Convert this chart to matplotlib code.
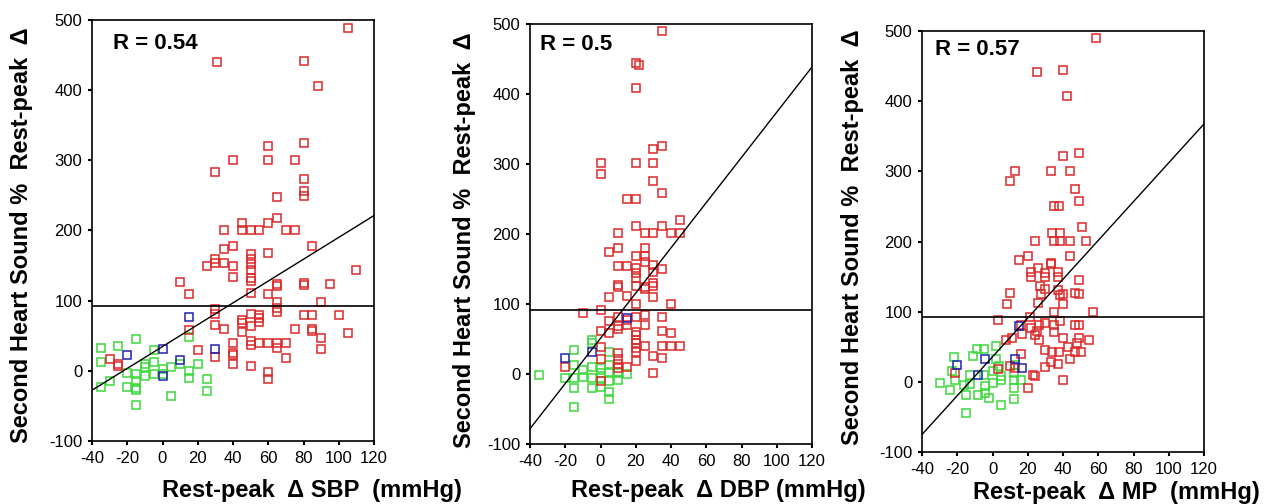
import numpy as np
import matplotlib.pyplot as plt

plt.rcParams['font.family'] = ['Liberation Sans', 'DejaVu Sans']
plt.rcParams['axes.unicode_minus'] = False

RED = '#dc2828'
GREEN = '#3cd83c'
BLUE = '#2020b0'

# ---- panel 1: SBP ----
sbp_red_x = [105, 31, 80, 88, 60, 80, 40, 60, 75, 30,
             80, 80, 80, 65, 65, 60, 45, 35, 45, 50,
             55, 70, 75, 85, 40, 35, 60, 50, 50, 50,
             30, 30, 35, 25, 40, 110, 50, 50, 50, 40,
             10, 65, 65, 80, 80, 95, 15, 50, 60, 65,
             90, 65, 65, 30, 30, 50, 55, 55, 55, 80,
             85, 100, 45, 45, 50, 30, 35, 75, 85, 85,
             45, 105, 90, 15, 20, 40, 50, 50, 55, 60,
             65, 65, 70, 90, 40, 40, 30, 70, 40, 50,
             60, 60, -30, -25, -25]
sbp_red_y = [489, 440, 442, 406, 320, 324, 300, 300, 300, 284,
             273, 257, 249, 248, 218, 210, 210, 200, 200, 200,
             200, 200, 200, 178, 178, 173, 168, 166, 159, 152,
             160, 154, 154, 149, 149, 143, 144, 133, 128, 134,
             126, 124, 121, 125, 123, 124, 109, 111, 109, 98,
             98, 90, 84, 88, 81, 81, 80, 75, 69, 79,
             79, 79, 73, 68, 64, 66, 60, 60, 60, 57,
             56, 54, 47, 58, 29, 39, 43, 37, 39, 39,
             39, 33, 39, 31, 25, 22, 20, 18, 10, 7,
             -1, -12, 17, 10, 7]
sbp_blue_x = [15, 0, 30, 10, -20, 0]
sbp_blue_y = [77, 31, 31, 16, 22, -7]
sbp_green_x = [-35, -35, -35, -25, -15, -30, -20, -20, -15, -15,
               -15, -15, -15, -10, -10, -10, -5, -5, -5, 0,
               0, 5, 5, 10, 15, 15, 15, 20, 25, 25]
sbp_green_y = [33, 12, -23, 35, 45, -14, -3, -23, -5, -14,
               -24, -27, -48, 10, 5, -8, 30, 12, -5, 3,
               -4, 5, -36, 10, 48, 0, -10, 10, -12, -29]

# ---- panel 2: DBP ----
dbp_red_x = [35, 20, 22, 20, 30, 35, 0, 0, 20, 30,
             30, 35, 15, 20, 45, 20, 35, 10, 25, 30,
             40, 45, 10, 5, 25, 20, 25, 25, 10, 15,
             20, 30, 30, 35, 20, 20, 20, 10, 10, 25,
             25, 30, 30, 5, 15, 30, 20, 40, 0, -10,
             10, 20, 25, 35, 15, 5, 10, 10, 15, 25,
             20, 20, 20, 20, 20, 20, 20, 0, 5, 35,
             40, 25, 35, 40, 45, 0, 0, 30, 35, 10,
             10, 10, 10, 15, -20, 0, 30]
dbp_red_y = [490, 444, 442, 408, 321, 326, 301, 286, 301, 301,
             275, 258, 250, 250, 220, 211, 211, 201, 201, 201,
             201, 201, 180, 174, 180, 169, 168, 160, 155, 155,
             152, 156, 146, 150, 144, 137, 126, 127, 125, 125,
             122, 130, 126, 110, 112, 110, 100, 100, 91, 87,
             82, 82, 84, 81, 77, 76, 68, 65, 70, 70,
             60, 56, 49, 44, 37, 32, 18, 61, 59, 61,
             59, 40, 40, 40, 40, 38, 21, 26, 23, 30,
             22, 15, 8, 10, 10, -10, 1]
dbp_blue_x = [-20, -5, 15]
dbp_blue_y = [23, 32, 80]
dbp_green_x = [-35, -15, -15, -15, -15, -15, -20, -10, -10, -5,
               -5, -5, -5, -5, 0, 0, 0, 0, 5, 5,
               5, 5, 5, 5, 10, 10, 15, 10]
dbp_green_y = [-2, 35, 13, -6, -20, -47, -6, 6, -4, 49,
               44, 10, -6, -20, 8, 1, -6, -19, 32, 13,
               3, -10, -25, -35, 1, -9, 0, 3]

# ---- panel 3: MP ----
mp_red_x = [59, 25, 40, 42, 40, 49, 13, 10, 33, 44,
            47, 49, 35, 37.5, 51, 33.5, 38.5, 24, 35, 38.5,
            44, 53, 20, 15, 44, 33, 33, 26, 22, 22,
            30, 30, 37, 37, 49, 27, 30, 37, 38.5, 40,
            47, 49, 10, 27.5, 26, 8, 40, 35, 57, 21,
            3, 16, 26.5, 30, 35, 38.5, 47, 49, 22, 25,
            24, 35, 17, 26.5, 7.5, 11, 40, 49, 54.5, 48,
            43, 30, 33.5, 37.5, 47, 50, 16, 44, 33, 37,
            30, 3, 10, 23, 24, 20, 40, -21, 13]
mp_red_y = [490, 441, 444, 408, 322, 326, 300, 286, 300, 300,
            275, 258, 250, 250, 220, 212, 212, 201, 201, 201,
            201, 201, 180, 174, 180, 169, 168, 162, 156, 150,
            155, 149, 157, 149, 145, 136, 132, 131, 124, 125,
            127, 125, 127, 125, 113, 111, 111, 100, 100, 92,
            88, 81, 81, 84, 81, 86, 81, 81, 77, 73,
            67, 71, 68, 59, 60, 62, 62, 62, 60, 55,
            50, 46, 42, 42, 42, 42, 40, 33, 28, 25,
            21, 18, 22, 10, 9, -9, 2, 12, 20]
mp_blue_x = [15, -20, -4, 13, 17, -8]
mp_blue_y = [79, 24, 33, 33, 20, 10]
mp_green_x = [-22, -23, -30, -24, -21, -15, -15, -16, -13, -12.5,
              -11, -9, -5, -8, -5, -4, -4, -2, 0.5, 2,
              2, 0.5, 5, 5, 5, 12, 12, 12, 12, 16,
              3.5, 13]
mp_green_y = [35, 15, -1, -11, 3, -19, -44, -5, 10, -3,
              37, 47, 47, -19, 10, -6, -16, -23, -2, 51,
              33, 15, 8, 3, -33, 12, 3, -9, -25, 3,
              22, 24]

# regression lines (slope, intercept) and the horizontal reference level
fits = [(1.556, 34.6), (3.23, 51.0), (2.766, 35.6)]
ref_level = 92
r_labels = ['R = 0.54', 'R = 0.5', 'R = 0.57']
x_labels = ['Rest-peak  \u0394 SBP  (mmHg)', 'Rest-peak  \u0394 DBP (mmHg)',
            'Rest-peak  \u0394 MP  (mmHg)']
y_label = 'Second Heart Sound %  Rest-peak  \u0394'
x_ticks = [-40, -20, 0, 20, 40, 60, 80, 100, 120]
y_ticks = [-100, 0, 100, 200, 300, 400, 500]

panels = [
    (sbp_red_x, sbp_red_y, sbp_green_x, sbp_green_y, sbp_blue_x, sbp_blue_y),
    (dbp_red_x, dbp_red_y, dbp_green_x, dbp_green_y, dbp_blue_x, dbp_blue_y),
    (mp_red_x, mp_red_y, mp_green_x, mp_green_y, mp_blue_x, mp_blue_y),
]

# axes boxes in pixels: left, top, right, bottom
boxes = [(92, 20, 374, 441), (530, 24, 812, 444), (922, 31, 1204, 452)]
r_pos = [(0.074, 0.945), (0.035, 0.95), (0.046, 0.955)]
xlab_pos = [(312, 490), (718, 490), (1116, 492)]
ylab_pos = [(22, 235), (464, 240), (853, 237)]

W, H = 1271, 504
fig = plt.figure(figsize=(W / 100, H / 100), dpi=100)

for i, data in enumerate(panels):
    l, t, r, b = boxes[i]
    ax = fig.add_axes([l / W, 1 - b / H, (r - l) / W, (b - t) / H])
    rx, ry, gx, gy, bx, by = data
    kw = dict(marker='s', ls='none', mfc='none', ms=5.5, mew=1.1)
    ax.plot(gx, gy, color=GREEN, **kw)
    ax.plot(rx, ry, color=RED, **kw)
    ax.plot(bx, by, color=BLUE, **kw)

    xs = np.array([-40, 120])
    slope, icpt = fits[i]
    ax.plot(xs, slope * xs + icpt, color='black', lw=1)
    ax.axhline(ref_level, color='black', lw=1.2)

    ax.set_xlim(-40, 120)
    ax.set_ylim(-100, 500)
    ax.set_xticks(x_ticks)
    ax.set_yticks(y_ticks)
    ax.tick_params(direction='out', length=3, width=1.5, labelsize=12, pad=4)
    for s in ax.spines.values():
        s.set_linewidth(1.2)

    ax.text(r_pos[i][0], r_pos[i][1], r_labels[i], transform=ax.transAxes,
            fontsize=16, fontweight='bold', ha='left', va='center')

    fig.text(xlab_pos[i][0] / W, 1 - xlab_pos[i][1] / H, x_labels[i],
             fontsize=17, fontweight='bold', ha='center', va='center')
    fig.text(ylab_pos[i][0] / W, 1 - ylab_pos[i][1] / H, y_label,
             fontsize=17, fontweight='bold', ha='center', va='center',
             rotation=90)

fig.savefig('out.png', dpi=100)
